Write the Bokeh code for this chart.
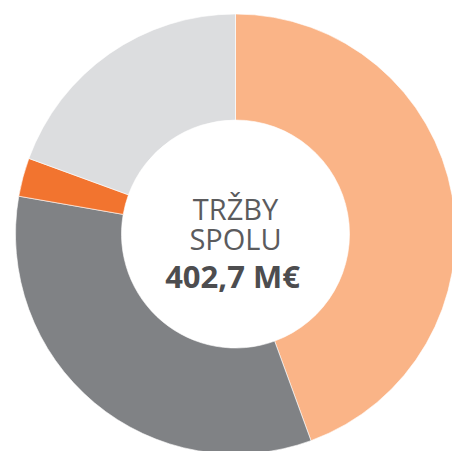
import math
from bokeh.plotting import figure
from bokeh.models import Range1d, ColumnDataSource
from bokeh.core.properties import value
from bokeh.embed import file_html
from bokeh.resources import INLINE

# Data (M€), clockwise from 12 o'clock
segments = ["A", "B", "C", "D"]
values = [178.9, 134.2, 11.4, 78.2]
colors = ["#FAB487", "#808285", "#F2742F", "#DCDDDF"]
title_lines = ["TRŽBY", "SPOLU"]
total_label = "402,7 M€"

W, H = 452, 451
CX, CY = 235, H - 233.5
R_OUT, R_IN = 220, 114

p = figure(width=W, height=H, output_backend="svg", toolbar_location=None,
           x_range=Range1d(0, W), y_range=Range1d(0, H),
           min_border=0, outline_line_color=None)
p.axis.visible = False
p.grid.visible = False
p.background_fill_color = "white"
p.border_fill_color = "white"

total = sum(values)
starts, ends = [], []
acc = 0.0
for v in values:
    a0 = math.pi / 2 - 2 * math.pi * acc / total
    acc += v
    a1 = math.pi / 2 - 2 * math.pi * acc / total
    starts.append(a0)
    ends.append(a1)

src = ColumnDataSource(dict(seg=segments, val=values, color=colors,
                            start=starts, end=ends))
p.annular_wedge(x=CX, y=CY, inner_radius=R_IN, outer_radius=R_OUT,
                start_angle="start", end_angle="end", direction="clock",
                fill_color="color", line_color="white", line_width=0.6,
                source=src)

p.text(x=[CX, CX], y=[243, 213.5], text=title_lines,
       text_font=value("Open Sans"), text_font_size="29px",
       text_color="#5B5B5D", text_align="center", text_baseline="alphabetic")
p.text(x=[CX - 3], y=[176], text=[total_label],
       text_font=value("Open Sans"), text_font_size="31px",
       text_font_style="bold", text_color="#4D4D4F",
       text_align="center", text_baseline="alphabetic")

open("out.html", "w").write(file_html(p, INLINE))
